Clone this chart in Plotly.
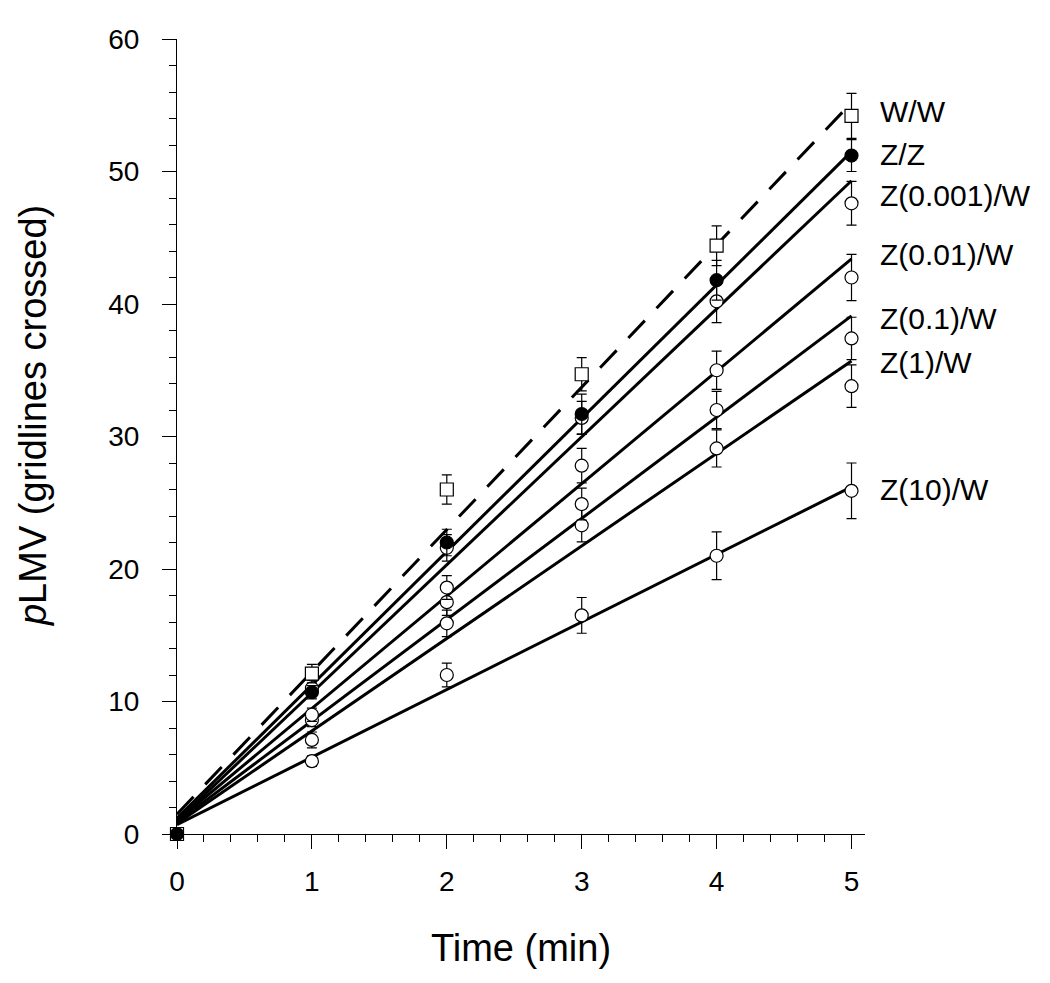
import plotly.graph_objects as go

# ---- data ----
time = [0, 1, 2, 3, 4, 5]

series_names = ["W/W", "Z/Z", "Z(0.001)/W", "Z(0.01)/W", "Z(0.1)/W", "Z(1)/W", "Z(10)/W"]

ww = [0, 12.1, 26.0, 34.7, 44.4, 54.2]
ww_err = [0, 0.7, 1.1, 1.25, 1.5, 1.7]

zz = [0, 10.7, 22.0, 31.7, 41.8, 51.2]
zz_err = [0, 0.5, 1.0, 1.5, 1.5, 1.2]

z0001 = [0, 11.0, 21.6, 31.4, 40.2, 47.6]
z0001_err = [0, 0.6, 1.0, 1.25, 1.6, 1.65]

z001 = [0, 9.0, 18.6, 27.8, 35.0, 42.0]
z001_err = [0, 0.5, 0.9, 1.3, 1.45, 1.75]

z01 = [0, 8.6, 17.5, 24.9, 32.0, 37.4]
z01_err = [0, 0.5, 1.0, 1.2, 1.4, 1.6]

z1 = [0, 7.1, 15.9, 23.3, 29.1, 33.8]
z1_err = [0, 0.6, 1.0, 1.25, 1.4, 1.6]

z10 = [0, 5.5, 12.0, 16.5, 21.0, 25.9]
z10_err = [0, 0.4, 0.9, 1.35, 1.8, 2.1]

# regression lines: value at t=0 and t=5
fit_t = [0, 5]
fit_start = [1.5, 1.2, 1.0, 1.0, 0.9, 0.8, 0.7]
fit_end = [55.2, 51.5, 49.3, 43.4, 39.1, 35.7, 26.2]

# label positions (y value) for right-side labels
label_y = [54.5, 51.3, 48.2, 43.7, 38.9, 35.6, 26.0]

FONT = "Arial, Liberation Sans, sans-serif"

fig = go.Figure()

# fit lines
for i, name in enumerate(series_names):
    fig.add_trace(go.Scatter(
        x=fit_t, y=[fit_start[i], fit_end[i]], mode="lines",
        line=dict(color="black", width=3, dash="24px,17px" if i == 0 else "solid"),
        showlegend=False, hoverinfo="skip"))

def pts(y, err, symbol, fill):
    fig.add_trace(go.Scatter(
        x=time, y=y, mode="markers",
        marker=dict(symbol=symbol, size=13, color=fill,
                    line=dict(color="black", width=1.2)),
        error_y=dict(type="data", array=err, visible=True,
                     color="black", thickness=1.2, width=5),
        cliponaxis=False, showlegend=False))

# open circles first, then squares, then filled circles on top
for y, e in [(z10, z10_err), (z1, z1_err), (z01, z01_err), (z001, z001_err), (z0001, z0001_err)]:
    pts(y, e, "circle", "white")
pts(ww, ww_err, "square", "white")
pts(zz, zz_err, "circle", "black")

X_MAX = 5.1
for name, ly in zip(series_names, label_y):
    fig.add_annotation(xref="paper", yref="y", x=5.2 / X_MAX, y=ly, text=name,
                       showarrow=False, xanchor="left", yanchor="middle",
                       font=dict(family=FONT, size=30, color="black"))

# y-axis title (placed as rotated text, slightly above plot centre as in the reference)
fig.add_annotation(xref="paper", yref="paper", x=-0.209, y=0.526,
                   text="<i>p</i>LMV (gridlines crossed)", textangle=-90,
                   showarrow=False, xanchor="center", yanchor="middle",
                   font=dict(family=FONT, size=38, color="black"))

fig.update_layout(
    width=1042, height=975,
    margin=dict(l=169, r=185, t=31, b=149),
    paper_bgcolor="white", plot_bgcolor="white",
    font=dict(family=FONT, color="black"),
    showlegend=False,
)
fig.update_xaxes(
    range=[0, X_MAX], tickvals=[0, 1, 2, 3, 4, 5], automargin=False,
    showgrid=False, zeroline=False,
    showline=True, linecolor="black", linewidth=1.2,
    ticks="outside", ticklen=14, tickwidth=1.2, tickcolor="black",
    minor=dict(dtick=0.2, ticks="outside", ticklen=7, tickwidth=1.2, tickcolor="black", showgrid=False),
    tickfont=dict(family=FONT, size=28),
    ticklabelstandoff=8,
    title=dict(text="Time (min)", font=dict(family=FONT, size=38), standoff=38),
)
fig.update_yaxes(
    range=[0, 60], tickvals=[0, 10, 20, 30, 40, 50, 60], automargin=False,
    showgrid=False, zeroline=False,
    showline=True, linecolor="black", linewidth=1.2,
    ticks="outside", ticklen=14, tickwidth=1.2, tickcolor="black",
    minor=dict(dtick=2, ticks="outside", ticklen=7, tickwidth=1.2, tickcolor="black", showgrid=False),
    tickfont=dict(family=FONT, size=28),
    ticklabelstandoff=17,
)

fig.write_html("out.html")
